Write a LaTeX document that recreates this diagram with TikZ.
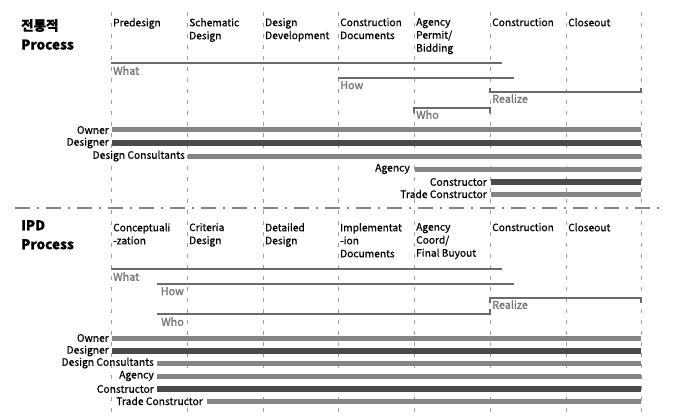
\documentclass[tikz,border=0pt]{standalone}
\usepackage{fontspec}
\setmainfont{Noto Sans CJK KR}[FakeBold=0.6]
\newfontfamily\tagfont{Noto Sans CJK KR}[FakeBold=1.5]
\usetikzlibrary{positioning}
\definecolor{lightbar}{HTML}{858585}
\definecolor{darkbar}{HTML}{4A4A4A}
\definecolor{guide}{HTML}{9C9C9C}
\definecolor{spanc}{HTML}{6A6A6A}
\definecolor{tagc}{HTML}{747474}
\tikzset{
	phase/.style={anchor=north west,align=left,inner sep=1pt,font=\fontsize{10.2}{13}\selectfont},
	title/.style={anchor=north west,align=left,inner sep=0pt,font=\fontsize{13.5}{19}\selectfont\bfseries},
	role/.style={anchor=east,inner sep=1pt,font=\fontsize{10.3}{10}\selectfont},
	tag/.style={inner sep=1pt,text=tagc,font=\tagfont\fontsize{10.8}{10}\selectfont},
	grid line/.style={guide,line width=0.8pt,dash pattern=on 4pt off 7pt},
	sep line/.style={guide!85!black,line width=1.8pt,dash pattern=on 15pt off 7pt on 2pt off 7pt},
	span line/.style={spanc,line width=1.1pt},
	light bar/.style={lightbar,line width=5pt},
	dark bar/.style={darkbar,line width=6pt}
}

\begin{document}
\begin{tikzpicture}[x=1pt,y=-1pt]
      \useasboundingbox (0,0) rectangle (677,417);

      % phase grid
      \foreach \x in {111,187,263,338,414,490,566,641}
        \draw[grid line] (\x,12) -- (\x,417);
      \draw[sep line] (15,208) -- (660,208);

      % traditional process
      \node[title] (t1) at (21,19) {전통적\\Process};
      \node[phase] (p1) at (112,17) {Predesign};
      \node[phase] (p2) at (188,17) {Schematic\\Design};
      \node[phase] (p3) at (264,17) {Design\\Development};
      \node[phase] (p4) at (339,17) {Construction\\Documents};
      \node[phase] (p5) at (415,17) {Agency\\Permit/\\Bidding};
      \node[phase] (p6) at (491,17) {Construction};
      \node[phase] (p7) at (567,17) {Closeout};

      \coordinate (w1) at (111,63);  \coordinate (w2) at (502,63);
      \coordinate (h1) at (338,78);  \coordinate (h2) at (514,78);
      \coordinate (z1) at (490,92);  \coordinate (z2) at (641,92);
      \coordinate (o1) at (414,108); \coordinate (o2) at (490,108);
      \draw[span line] (w1) -- (w2);
      \draw[span line] (h1) -- (h2);
      \draw[span line] ([yshift=4pt]z1) -- (z1) -- (z2) -- ([yshift=4pt]z2);
      \draw[span line] ([yshift=-5pt]o1) -- (o1) -- (o2) -- ([yshift=-5pt]o2);
      \node[tag,anchor=north west] (a1) at (112,65) {What};
      \node[tag,anchor=north west] (a2) at (339,80) {How};
      \node[tag,anchor=north west] (a3) at (491,93) {Realize};
      \node[tag,anchor=north west] (a4) at (415,109) {Who};

      \foreach \n/\y/\x/\lx/\s/\t in {1/130/112/110/light bar/Owner,
          2/143/112/110/dark bar/Designer,
          3/156/188/186/light bar/Design Consultants,
          4/169/415/411/light bar/Agency,
          5/182/491/488/dark bar/Constructor,
          6/194/491/488/light bar/Trade Constructor}{
        \node[role] (r\n) at (\lx,\y) {\t};
        \draw[\s] (\x,\y) -- (641,\y);
      }

      % IPD process
      \node[title] (t2) at (21,220) {IPD\\Process};
      \node[phase] (q1) at (112,222) {Conceptuali\\-zation};
      \node[phase] (q2) at (188,222) {Criteria\\Design};
      \node[phase] (q3) at (264,222) {Detailed\\Design};
      \node[phase] (q4) at (339,222) {Implementat\\-ion\\Documents};
      \node[phase] (q5) at (415,222) {Agency\\Coord/\\Final Buyout};
      \node[phase] (q6) at (491,222) {Construction};
      \node[phase] (q7) at (567,222) {Closeout};

      \coordinate (w3) at (111,269); \coordinate (w4) at (502,269);
      \coordinate (h3) at (157,284); \coordinate (h4) at (514,284);
      \coordinate (z3) at (490,298); \coordinate (z4) at (641,298);
      \coordinate (o3) at (157,314); \coordinate (o4) at (490,314);
      \draw[span line] (w3) -- (w4);
      \draw[span line] (h3) -- (h4);
      \draw[span line] ([yshift=-5pt]z3) -- (z3) -- (z4) -- ([yshift=-5pt]z4);
      \draw[span line] (o3) -- (o4) -- ([yshift=5pt]o4);
      \node[tag,anchor=north west] (b1) at (112,271) {What};
      \node[tag,anchor=north east] (b2) at (185,286) {How};
      \node[tag,anchor=north west] (b3) at (491,299) {Realize};
      \node[tag,anchor=north east] (b4) at (185,316) {Who};

      \foreach \n/\y/\x/\lx/\s/\t in {7/338/112/110/light bar/Owner,
          8/351/112/110/dark bar/Designer,
          9/363/157/155/light bar/Design Consultants,
          10/376/157/155/light bar/Agency,
          11/389/157/155/dark bar/Constructor,
          12/401/207/204/light bar/Trade Constructor}{
        \node[role] (r\n) at (\lx,\y) {\t};
        \draw[\s] (\x,\y) -- (641,\y);
      }
\end{tikzpicture}
\end{document}
